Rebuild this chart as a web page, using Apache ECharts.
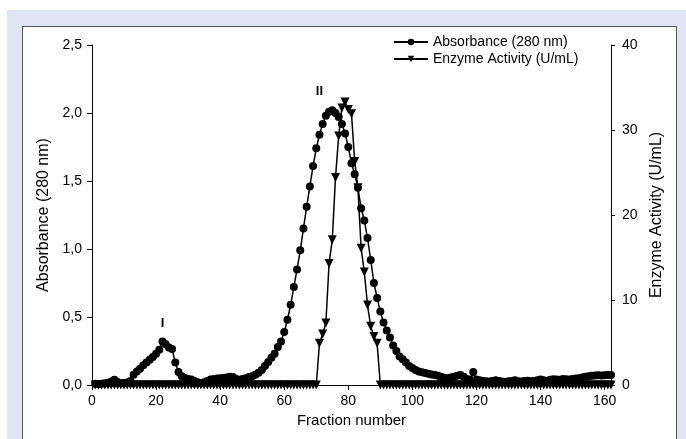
<!DOCTYPE html>
<html>
<head>
<meta charset="utf-8">
<script src="https://cdn.jsdelivr.net/npm/echarts@6/dist/echarts.min.js"></script>
<style>
  html, body { margin: 0; padding: 0; background: #ffffff; }
  #panel { position: absolute; left: 7px; top: 10px; width: 679px; height: 429px; background: #e1e5f3; }
  #frame { position: absolute; left: 22px; top: 26px; width: 653px; height: 430px; background: #ffffff; border: 1px solid #555555; }
  #chart { position: absolute; left: 0; top: 0; width: 686px; height: 439px; }
</style>
</head>
<body>
<div id="panel"></div>
<div id="frame"></div>
<div id="chart"></div>
<script>
// Fraction numbers collected from the column
const fractions = Array.from({ length: 162 }, (_, i) => i + 1);

// Absorbance at 280 nm for each fraction
const absorbance = [
  0.010, 0.008, 0.010, 0.012, 0.015, 0.025, 0.038, 0.022, 0.015, 0.015, 0.018, 0.030,
  0.075, 0.100, 0.120, 0.145, 0.165, 0.185, 0.205, 0.230, 0.260, 0.320,
  0.300, 0.275, 0.265, 0.165, 0.095, 0.065, 0.052, 0.045, 0.040, 0.030, 0.020,
  0.015, 0.020, 0.030, 0.040, 0.045, 0.048, 0.050, 0.052, 0.055, 0.060, 0.058, 0.045, 0.038, 0.045, 0.050, 0.058, 0.065,
  0.075, 0.090, 0.110, 0.140, 0.170, 0.200, 0.230, 0.280, 0.320, 0.390, 0.480, 0.590, 0.720, 0.850, 0.990, 1.150,
  1.310, 1.460, 1.610, 1.740, 1.840, 1.920, 1.980, 2.010, 2.020, 2.000, 1.970, 1.920, 1.850, 1.750, 1.630, 1.550, 1.450, 1.300, 1.210, 1.080,
  0.920, 0.750, 0.640, 0.540, 0.460, 0.400, 0.350, 0.290, 0.250, 0.210, 0.190, 0.165, 0.140, 0.125, 0.110, 0.100, 0.093, 0.088, 0.083, 0.078, 0.074, 0.068, 0.060, 0.052,
  0.050, 0.055, 0.060, 0.068, 0.074, 0.060, 0.045, 0.040, 0.095, 0.040,
  0.035, 0.030, 0.028, 0.025, 0.030, 0.035, 0.030, 0.025, 0.022, 0.028,
  0.030, 0.035, 0.028, 0.025, 0.030, 0.032, 0.028, 0.030, 0.035, 0.040,
  0.035, 0.030, 0.038, 0.042, 0.040, 0.038, 0.045, 0.042, 0.040, 0.045,
  0.048, 0.050, 0.055, 0.060, 0.065, 0.068, 0.070, 0.072, 0.070, 0.072, 0.074, 0.074
];

// Enzyme activity (U/mL) for each fraction
const enzymeActivity = [
  0, 0, 0, 0, 0, 0, 0, 0, 0, 0, 0, 0, 0, 0, 0, 0, 0, 0, 0, 0,
  0, 0, 0, 0, 0, 0, 0, 0, 0, 0, 0, 0, 0, 0, 0, 0, 0, 0, 0, 0,
  0, 0, 0, 0, 0, 0, 0, 0, 0, 0, 0, 0, 0, 0, 0, 0, 0, 0, 0, 0,
  0, 0, 0, 0, 0, 0, 0, 0, 0, 0,
  4.9, 6.0, 7.3, 14.3, 17.1, 24.4, 29.3, 32.6, 33.3, 32.4,
  31.9, 26.3, 23.2, 16.1, 13.3, 9.4, 6.9, 5.7, 4.9,
  0, 0, 0, 0, 0, 0, 0, 0, 0, 0, 0, 0, 0, 0, 0, 0, 0, 0, 0, 0,
  0, 0, 0, 0, 0, 0, 0, 0, 0, 0, 0, 0, 0, 0, 0, 0, 0, 0, 0, 0,
  0, 0, 0, 0, 0, 0, 0, 0, 0, 0, 0, 0, 0, 0, 0, 0, 0, 0, 0, 0,
  0, 0, 0, 0, 0, 0, 0, 0, 0, 0, 0, 0, 0
];

// Tick values for each axis
const xTicks = [0, 20, 40, 60, 80, 100, 120, 140, 160];
const absTicks = [0, 0.5, 1.0, 1.5, 2.0, 2.5];
const actTicks = [0, 10, 20, 30, 40];

// Peak annotations: label, fraction, absorbance
const peakLabels = ['I', 'II'];
const peakFractions = [22, 71];
const peakValues = [0.32, 2.02];

const FONT = '"Liberation Sans", Arial, sans-serif';
const INK = '#000000';

const chart = echarts.init(document.getElementById('chart'), null, { renderer: 'canvas' });

const fmtComma = (v, digits) => v.toFixed(digits).replace('.', ',');

chart.setOption({
  animation: false,
  backgroundColor: 'transparent',
  textStyle: { fontFamily: FONT, color: INK },
  grid: { left: 92, right: 75, top: 45, bottom: 54 },
  legend: {
    orient: 'vertical',
    left: 388,
    top: 30,
    itemWidth: 34,
    itemHeight: 8,
    itemGap: 3,
    textStyle: { fontFamily: FONT, fontSize: 14, color: INK },
    data: ['Absorbance (280 nm)', 'Enzyme Activity (U/mL)']
  },
  xAxis: {
    type: 'value',
    min: 0,
    max: 162,
    interval: 20,
    name: 'Fraction number',
    nameLocation: 'middle',
    nameGap: 27,
    nameTextStyle: { fontFamily: FONT, fontSize: 15, color: INK },
    axisLine: { show: true, lineStyle: { color: INK, width: 1 } },
    axisTick: { show: true, inside: false, length: 5, lineStyle: { color: INK }, customValues: xTicks },
    axisLabel: { fontFamily: FONT, fontSize: 14, color: INK, margin: 9, customValues: xTicks },
    splitLine: { show: false }
  },
  yAxis: [
    {
      type: 'value',
      min: 0,
      max: 2.5,
      interval: 0.5,
      position: 'left',
      name: 'Absorbance (280 nm)',
      nameLocation: 'middle',
      nameRotate: 90,
      nameGap: 40,
      nameTextStyle: { fontFamily: FONT, fontSize: 16, color: INK },
      axisLine: { show: true, lineStyle: { color: INK, width: 1 } },
      axisTick: { show: true, inside: false, length: 5, lineStyle: { color: INK }, customValues: absTicks },
      axisLabel: {
        fontFamily: FONT, fontSize: 14, color: INK, margin: 10,
        customValues: absTicks,
        formatter: v => fmtComma(v, 1)
      },
      splitLine: { show: false }
    },
    {
      type: 'value',
      min: 0,
      max: 40,
      interval: 10,
      position: 'right',
      name: 'Enzyme Activity (U/mL)',
      nameLocation: 'middle',
      nameRotate: 90,
      nameGap: 37,
      nameTextStyle: { fontFamily: FONT, fontSize: 16, color: INK },
      axisLine: { show: true, lineStyle: { color: INK, width: 1 } },
      axisTick: { show: true, inside: false, length: 4, lineStyle: { color: INK }, customValues: actTicks },
      axisLabel: { fontFamily: FONT, fontSize: 14, color: INK, margin: 11, customValues: actTicks },
      splitLine: { show: false }
    }
  ],
  series: [
    {
      name: 'Absorbance (280 nm)',
      type: 'line',
      yAxisIndex: 0,
      data: fractions.map((f, i) => [f, absorbance[i]]),
      symbol: 'circle',
      symbolSize: 8,
      showAllSymbol: true,
      itemStyle: { color: INK },
      lineStyle: { color: INK, width: 1.5 },
      z: 3,
      markPoint: {
        symbol: 'circle',
        symbolSize: 0,
        silent: true,
        label: {
          show: true,
          position: 'top',
          distance: 12,
          fontFamily: FONT,
          fontSize: 13,
          fontWeight: 'bold',
          color: INK,
          formatter: p => p.name
        },
        data: peakLabels.map((name, i) => ({ name, coord: [peakFractions[i], peakValues[i]] }))
      }
    },
    {
      name: 'Enzyme Activity (U/mL)',
      type: 'line',
      yAxisIndex: 1,
      data: fractions.map((f, i) => [f, enzymeActivity[i]]),
      symbol: 'triangle',
      symbolRotate: 180,
      symbolSize: 9,
      showAllSymbol: true,
      itemStyle: { color: INK },
      lineStyle: { color: INK, width: 1.5 },
      z: 4
    }
  ]
});
</script>
</body>
</html>
